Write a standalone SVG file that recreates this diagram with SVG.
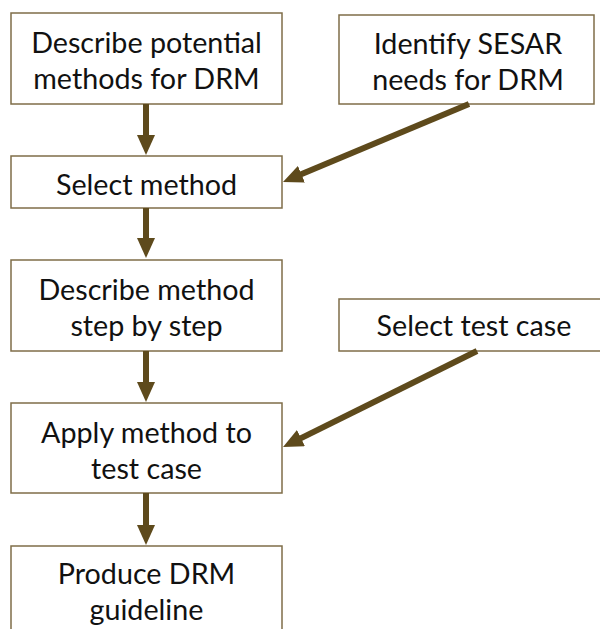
<svg xmlns="http://www.w3.org/2000/svg" width="600" height="629" viewBox="0 0 600 629">
  <style>
    .box { fill: #ffffff; stroke: #7f6d48; stroke-width: 1.5; }
    .t { font-family: Lato, "Open Sans", sans-serif; font-size: 28.7px; fill: #111111; text-anchor: middle; }
    .arr { stroke: #5e4a1c; stroke-width: 6; fill: none; marker-end: url(#ah); }
  </style>
  <defs>
    <marker id="ah" markerUnits="userSpaceOnUse" markerWidth="20" markerHeight="18" refX="10" refY="9" orient="auto">
      <path d="M0,0 L20,9 L0,18 z" fill="#5e4a1c"/>
    </marker>
  </defs>
  <rect width="600" height="629" fill="#ffffff"/>

  <g id="n1">
    <rect class="box" x="11" y="13" width="271" height="91"/>
    <text class="t" x="146.5" y="53">Describe potential</text>
    <text class="t" x="146.5" y="89">methods for DRM</text>
  </g>
  <g id="n2">
    <rect class="box" x="339" y="15" width="255" height="89"/>
    <text class="t" x="468" y="54">Identify SESAR</text>
    <text class="t" x="468" y="90">needs for DRM</text>
  </g>
  <g id="n3">
    <rect class="box" x="11" y="156" width="271" height="52"/>
    <text class="t" x="146.5" y="195">Select method</text>
  </g>
  <g id="n4">
    <rect class="box" x="11" y="260" width="271" height="91"/>
    <text class="t" x="146.5" y="300">Describe method</text>
    <text class="t" x="146.5" y="336">step by step</text>
  </g>
  <g id="n5">
    <rect class="box" x="339" y="299" width="272" height="52"/>
    <text class="t" x="474" y="336">Select test case</text>
  </g>
  <g id="n6">
    <rect class="box" x="11" y="403" width="271" height="90"/>
    <text class="t" x="146.5" y="443">Apply method to</text>
    <text class="t" x="146.5" y="479">test case</text>
  </g>
  <g id="n7">
    <rect class="box" x="11" y="546" width="271" height="92"/>
    <text class="t" x="146.5" y="584">Produce DRM</text>
    <text class="t" x="146.5" y="620">guideline</text>
  </g>

  <g id="connectors">
    <line class="arr" x1="146" y1="104" x2="146" y2="145"/>
    <line class="arr" x1="146" y1="208" x2="146" y2="248"/>
    <line class="arr" x1="146" y1="351" x2="146" y2="392"/>
    <line class="arr" x1="146" y1="493" x2="146" y2="535"/>
    <line class="arr" x1="469" y1="104" x2="292.2" y2="178.1"/>
    <line class="arr" x1="477" y1="351" x2="292" y2="442.6"/>
  </g>
</svg>
